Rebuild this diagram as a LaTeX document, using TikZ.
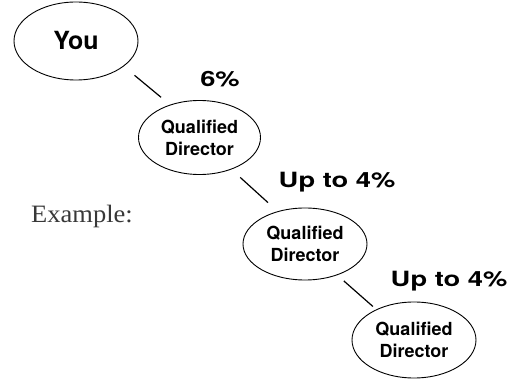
\documentclass[tikz,border=0pt]{standalone}
\usepackage{graphicx}
\usepackage{fontspec}
\setmainfont{Liberation Serif}
\setsansfont{TeX Gyre Heros}
\usetikzlibrary{shapes.geometric}
\begin{document}
\begin{tikzpicture}[x=1pt,y=-1pt,
  bub/.style={draw, ellipse, line width=0.9pt, inner sep=0pt, align=center,
    font=\sffamily\bfseries\fontsize{18}{22}\selectfont},
  link/.style={line width=1.2pt},
  pct/.style={anchor=base, inner sep=0pt, font=\sffamily\bfseries\fontsize{21}{24}\selectfont}]
\useasboundingbox (0,0) rectangle (515,379);
\node[bub, minimum width=124pt, minimum height=78pt,
  font=\sffamily\bfseries\fontsize{25}{28}\selectfont] (you) at (76,41) {You};
\node[bub, minimum width=122pt, minimum height=74pt] (qd1) at (199.5,137.5) {Qualified\\Director};
\node[bub, minimum width=124pt, minimum height=72pt] (qd2) at (305,244) {Qualified\\Director};
\node[bub, minimum width=124pt, minimum height=76pt] (qd3) at (414,340) {Qualified\\Director};
\draw[link, shorten <=14pt, shorten >=11.5pt] (you.-28) -- (qd1.132);
\draw[link, shorten <=11.8pt, shorten >=12.9pt] (qd1.-45) -- (qd2.130.6);
\draw[link, shorten <=8.7pt, shorten >=4.4pt] (qd2.-44) -- (qd3.141);
\node[pct] (p1) at (220,87) {\scalebox{1.3}[1]{6\%}};
\node[pct] (p2) at (337,188) {\scalebox{1.3}[1]{Up to 4\%}};
\node[pct] (p3) at (449,287) {\scalebox{1.3}[1]{Up to 4\%}};
\node[anchor=base west, inner sep=0pt, text=black!78,
  font=\fontsize{25}{28}\selectfont] (ex) at (31,223) {\scalebox{1.06}[1]{Example:}};
\end{tikzpicture}
\end{document}
